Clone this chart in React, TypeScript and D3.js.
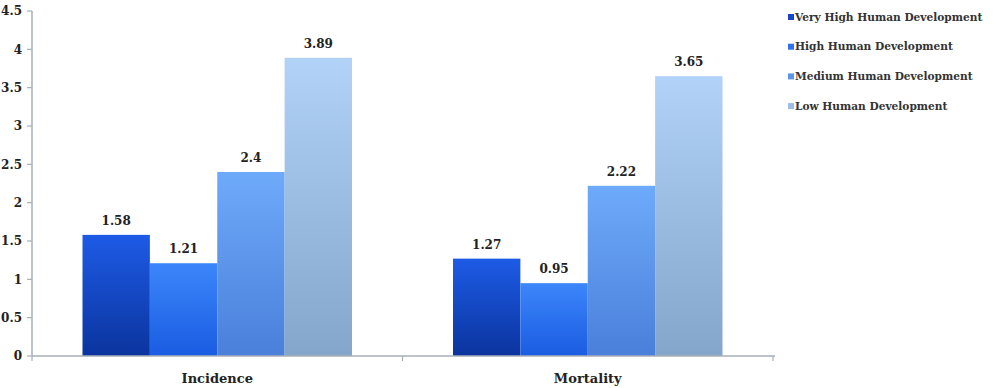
import React, { useEffect, useRef } from "react";
import * as d3 from "d3";

const categories = ["Incidence", "Mortality"];
const seriesNames = [
  "Very High Human Development",
  "High Human Development",
  "Medium Human Development",
  "Low Human Development",
];
const veryHigh = [1.58, 1.27];
const high = [1.21, 0.95];
const medium = [2.4, 2.22];
const low = [3.89, 3.65];
const yTicks = [0, 0.5, 1, 1.5, 2, 2.5, 3, 3.5, 4, 4.5];

// top / bottom gradient colours per series
const gradients = [
  ["#1d5be6", "#0b349e"],
  ["#3c86fa", "#1a5ce2"],
  ["#6eaafa", "#4a7fda"],
  ["#b2d2f8", "#83a6ca"],
];
const legendColours = ["#1448c8", "#2f74ee", "#5d95e6", "#9cbde6"];

function App() {
  const svgRef = useRef<SVGSVGElement | null>(null);

  useEffect(() => {
    const width = 1000;
    const height = 388;
    const font = "'DejaVu Serif', serif";
    const axisColour = "#a7afb6";
    const allSeries = [veryHigh, high, medium, low];

    const svg = d3.select(svgRef.current);
    svg.selectAll("*").remove();
    svg.attr("width", width).attr("height", height);

    const defs = svg.append("defs");
    gradients.forEach((g, i) => {
      const lg = defs
        .append("linearGradient")
        .attr("id", `grad${i}`)
        .attr("x1", 0)
        .attr("y1", 0)
        .attr("x2", 0)
        .attr("y2", 1);
      lg.append("stop").attr("offset", "0%").attr("stop-color", g[0]);
      lg.append("stop").attr("offset", "100%").attr("stop-color", g[1]);
    });

    const x0 = d3.scaleBand().domain(categories).range([32, 773]).paddingInner(0).paddingOuter(0);
    const x1 = d3
      .scaleBand()
      .domain(seriesNames)
      .range([50.5, x0.bandwidth() - 50.5])
      .padding(0);
    const y = d3.scaleLinear().domain([0, 4.5]).range([356, 11]);

    // y axis
    svg
      .append("line")
      .attr("x1", 32)
      .attr("x2", 32)
      .attr("y1", y(4.5))
      .attr("y2", y(0))
      .attr("stroke", axisColour)
      .attr("stroke-width", 1.5);
    yTicks.forEach((t) => {
      svg
        .append("line")
        .attr("x1", 27)
        .attr("x2", 32)
        .attr("y1", y(t))
        .attr("y2", y(t))
        .attr("stroke", axisColour)
        .attr("stroke-width", 1.2);
      svg
        .append("text")
        .attr("x", 22)
        .attr("y", y(t))
        .attr("dy", "0.35em")
        .attr("text-anchor", "end")
        .style("font-family", font)
        .style("font-size", "12px")
        .style("font-weight", "bold")
        .attr("fill", "#222")
        .text(String(t));
    });

    // bars
    categories.forEach((c, ci) => {
      const g = svg.append("g").attr("transform", `translate(${x0(c)},0)`);
      seriesNames.forEach((s, si) => {
        const v = allSeries[si][ci];
        g.append("rect")
          .attr("x", x1(s)!)
          .attr("y", y(v))
          .attr("width", x1.bandwidth())
          .attr("height", y(0) - y(v))
          .attr("fill", `url(#grad${si})`);
        g.append("text")
          .attr("x", x1(s)! + x1.bandwidth() / 2)
          .attr("y", y(v) - 10)
          .attr("text-anchor", "middle")
          .style("font-family", font)
          .style("font-size", "12px")
          .style("font-weight", "bold")
          .attr("fill", "#222")
          .text(String(v));
      });
    });

    // x axis
    svg
      .append("line")
      .attr("x1", 32)
      .attr("x2", 775)
      .attr("y1", y(0))
      .attr("y2", y(0))
      .attr("stroke", axisColour)
      .attr("stroke-width", 1.5);
    [32, x0(categories[1])!, 773].forEach((tx) => {
      svg
        .append("line")
        .attr("x1", tx)
        .attr("x2", tx)
        .attr("y1", y(0))
        .attr("y2", y(0) + 5)
        .attr("stroke", axisColour)
        .attr("stroke-width", 1.2);
    });
    categories.forEach((c) => {
      svg
        .append("text")
        .attr("x", x0(c)! + x0.bandwidth() / 2)
        .attr("y", 383)
        .attr("text-anchor", "middle")
        .style("font-family", font)
        .style("font-size", "13px")
        .style("font-weight", "bold")
        .attr("fill", "#222")
        .text(c);
    });

    // legend
    seriesNames.forEach((s, i) => {
      const ly = 17 + i * 29.7;
      svg
        .append("rect")
        .attr("x", 788)
        .attr("y", ly - 3)
        .attr("width", 6)
        .attr("height", 6)
        .attr("fill", legendColours[i]);
      svg
        .append("text")
        .attr("x", 795)
        .attr("y", ly)
        .attr("dy", "0.35em")
        .style("font-family", font)
        .style("font-size", "10.6px")
        .style("font-weight", "bold")
        .attr("fill", "#333")
        .text(s);
    });
  }, []);

  return (
    <div style={{ position: "fixed", left: 0, top: 0, background: "#fff" }}>
      <svg ref={svgRef} style={{ display: "block" }}></svg>
    </div>
  );
}

export default App;
